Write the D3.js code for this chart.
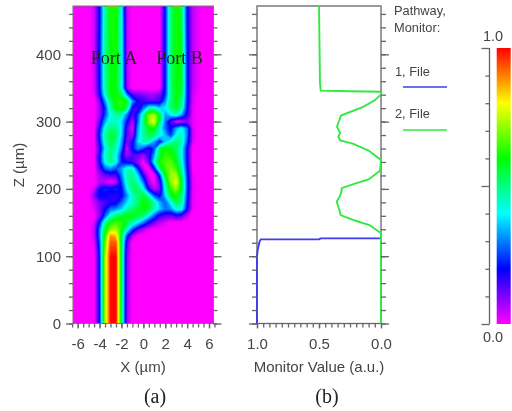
<!DOCTYPE html>
<html>
<head>
<meta charset="utf-8">
<script src="https://cdn.jsdelivr.net/npm/d3@7"></script>
<style>
  html, body { margin: 0; padding: 0; background: #fff; }
  svg { display: block; filter: blur(0.55px); }
  text { font-family: "Liberation Sans", Arial, sans-serif; fill: #444; }
  .serif { font-family: "Liberation Serif", "Times New Roman", serif; fill: #222; }
  .axis path, .axis line { stroke: #666; stroke-width: 1.3; }
</style>
</head>
<body>
<svg width="512" height="411"></svg>
<script>
// field values in percent, sampled across X at these columns
const heatCols = [-5,-4.5,-4,-3.5,-3,-2.5,-2,-1.5,-1,-.5,0,.5,1,1.5,2,2.5,3,3.5,4,4.5,5];
const heatZ = [0,100,120,130,140,150,160,170,180,190,200,210,220,230,240,250,260,270,280,290,300,310,320,330,340,350,400,471,472];
const heatRows = [
  [0,0,20,74,100,100,54,8,0,0,0,0,0,0,0,0,0,0,0,0,0],
  [0,0,22,74,100,100,54,10,0,0,0,0,0,0,0,0,0,0,0,0,0],
  [0,2,26,68,94,94,56,14,0,0,0,0,0,0,0,0,0,0,0,0,0],
  [0,5,30,64,90,86,56,24,6,0,0,0,0,0,0,0,0,0,0,0,0],
  [0,5,30,58,72,74,62,44,28,14,7,2,0,0,0,0,0,0,0,0,0],
  [0,3,22,48,62,66,64,57,47,40,30,20,12,6,3,0,0,0,0,0,0],
  [0,0,10,28,44,52,57,60,60,57,52,40,27,17,14,12,17,14,5,0,0],
  [0,3,10,20,30,32,37,47,52,57,62,57,47,37,30,32,44,42,20,2,0],
  [0,5,12,15,18,18,28,38,45,52,60,58,48,35,28,42,55,50,22,2,0],
  [0,10,22,20,18,18,20,32,45,52,58,45,28,20,38,58,62,52,24,3,0],
  [0,4,20,24,22,24,20,40,52,52,42,18,6,10,45,64,72,58,25,3,0],
  [0,0,6,5,0,5,25,45,52,46,30,8,0,14,48,72,80,58,25,3,0],
  [0,0,8,12,14,14,30,48,50,38,18,3,0,24,58,74,74,54,24,2,0],
  [0,0,14,28,32,26,34,45,45,24,5,0,20,52,65,70,65,48,22,0,0],
  [0,0,20,42,50,42,22,18,16,8,0,14,42,62,67,67,60,44,20,0,0],
  [0,0,20,45,52,42,22,8,14,12,8,16,35,58,64,62,56,42,20,0,0],
  [0,0,16,40,52,46,30,3,22,32,26,16,26,54,62,60,54,42,20,0,0],
  [0,0,20,46,56,50,34,10,18,38,48,45,34,20,36,46,52,48,26,4,0],
  [0,0,24,48,56,54,38,14,6,36,48,56,52,44,36,24,42,46,30,5,0],
  [0,0,20,44,52,50,40,14,3,34,48,60,62,44,28,20,34,42,30,4,0],
  [0,0,14,34,45,45,38,22,6,28,52,72,80,54,30,14,2,3,10,3,0],
  [0,0,8,26,42,48,45,30,14,26,48,72,74,58,32,40,45,34,18,3,0],
  [0,0,8,24,48,60,64,52,18,16,30,45,45,38,40,52,58,48,20,3,0],
  [0,0,10,32,52,62,64,58,34,20,18,14,14,16,32,52,60,52,22,4,0],
  [0,2,18,44,60,62,54,32,14,12,10,8,8,12,24,50,60,55,22,5,0],
  [0,3,20,48,60,60,44,8,0,0,0,0,0,0,22,52,60,58,22,6,2],
  [0,4,22,50,60,62,44,6,0,0,0,0,0,0,22,52,62,58,22,6,2],
  [0,4,20,48,62,62,42,5,0,0,0,0,0,0,22,52,62,55,20,6,2],
  [0,4,30,70,88,88,70,20,0,0,0,0,0,0,30,75,88,80,30,6,2]
];

const zTicksMajor = [0,100,200,300,400];
const xTickLabels = [-6,-4,-2,0,2,4,6];
const monitorTicks = [1,0.5,0];

// pathway 1 (blue), pathway 2 (green): [monitor value, z]
const monitorBlue = [[1,0],[1,100],[0.995,109],[0.98,121.5],[0.97,125],[0.5,125],[0.486,126.5],[0,126.5]];
const monitorGreen = [[0,0],[0,134],[0.089,146],[0.21,153],[0.325,161],[0.336,169],[0.357,181],[0.33,189.5],[0.317,198],
  [0.317,201],[0.223,207],[0.1,214],[0.008,227],[0,243],[0.1,257],[0.223,267],[0.33,272],[0.344,277.6],[0.33,283.5],
  [0.355,292.5],[0.336,302],[0.323,309],[0.143,322],[0.048,332],[0,340.5],[0,344.4],[0.25,345],[0.486,346],[0.492,357],[0.5,473]];

const colorStops = [0,0.2,0.4,0.6,0.8,1];
const colorNames = ["#ff00ff","#0000ff","#00ffff","#00ff00","#ffff00","#ff0000"];
const barTicks = [0,0.1,0.2,0.3,0.4,0.5,0.6,0.7,0.8,0.9,1];

const svg = d3.select("svg");
const plotTop = 6, plotBottom = 323.5;

const color = d3.scaleLinear().domain(colorStops).range(colorNames);
const z = d3.scaleLinear().domain([0,100]).range([plotBottom,256.2]);
const zMax = z.invert(plotTop);
const x = d3.scaleLinear().domain([-6,6]).range([77.7,209]);
const xLeft = 73, xRight = 213.5;
const v = d3.scaleLinear().domain([1,0]).range([257,381]);
const barY = d3.scaleLinear().domain([0,1]).range([324,48]);

const zMinor = d3.range(0, zMax, 20);
const fs = 15;

// axis helper, draws only ticks and labels
function ticks(g, axis) {
  g.attr("class", "axis").call(axis);
  g.select(".domain").remove();
  g.selectAll("text").attr("font-size", fs);
}

// panel (a): contour field
const defs = svg.append("defs");
defs.append("clipPath").attr("id", "clipA").append("rect")
  .attr("x", xLeft).attr("y", plotTop).attr("width", xRight - xLeft).attr("height", plotBottom - plotTop);

const nx = heatCols.length, ny = heatZ.length;
const colIdx = d3.scaleLinear().domain(d3.range(nx)).range(heatCols);
const rowIdx = d3.scaleLinear().domain(d3.range(ny)).range(heatZ);
const flat = heatRows.flat();
const levels = d3.range(1, 100.1, 1.5);
const contours = d3.contours().size([nx, ny]).smooth(true).thresholds(levels)(flat);
const proj = d3.geoTransform({
  point(px, py) { this.stream.point(x(colIdx(px - 0.5)), z(rowIdx(py - 0.5))); }
});
const path = d3.geoPath(proj);

const a = svg.append("g").attr("clip-path", "url(#clipA)");
a.append("rect").attr("x", xLeft).attr("y", plotTop).attr("width", xRight - xLeft).attr("height", plotBottom - plotTop).attr("fill", color(0));
a.selectAll("path").data(contours).join("path")
  .attr("d", path)
  .attr("fill", d => color(d.value / 100));

svg.append("rect").attr("x", xLeft).attr("y", plotTop).attr("width", xRight - xLeft).attr("height", plotBottom - plotTop)
  .attr("fill", "none").attr("stroke", "#777").attr("stroke-width", 1);

// panel (a) axes
svg.append("g").attr("transform", `translate(${xLeft},0)`)
  .call(ticks, d3.axisLeft(z).tickValues(zMinor).tickSize(4).tickFormat(""));
svg.append("g").attr("transform", `translate(${xLeft},0)`)
  .call(ticks, d3.axisLeft(z).tickValues(zTicksMajor).tickSize(7).tickPadding(5).tickFormat(d3.format("d")));
svg.append("g").attr("transform", `translate(${xRight},0)`)
  .call(ticks, d3.axisRight(z).tickValues(zMinor).tickSize(4).tickFormat(""));
svg.append("g").attr("transform", `translate(${xRight},0)`)
  .call(ticks, d3.axisRight(z).tickValues(zTicksMajor).tickSize(8).tickFormat(""));
svg.append("g").attr("transform", `translate(0,${plotBottom})`)
  .call(ticks, d3.axisBottom(x).tickValues(d3.range(-6.5, 6.6, 0.5)).tickSize(4).tickFormat(""));
svg.append("g").attr("transform", `translate(0,${plotBottom})`)
  .call(ticks, d3.axisBottom(x).tickValues(xTickLabels).tickSize(5).tickPadding(9.5).tickFormat(d => String(d)));

svg.append("text").attr("x", 143).attr("y", 372).attr("text-anchor", "middle").attr("font-size", fs).text("X (\u00b5m)");
svg.append("text").attr("transform", "translate(24,165) rotate(-90)").attr("text-anchor", "middle").attr("font-size", fs).text("Z (\u00b5m)");
svg.append("text").attr("class", "serif").attr("x", 114).attr("y", 64).attr("text-anchor", "middle").attr("font-size", 18).text("Port A");
svg.append("text").attr("class", "serif").attr("x", 179.5).attr("y", 64).attr("text-anchor", "middle").attr("font-size", 18).text("Port B");
svg.append("text").attr("class", "serif").attr("x", 155).attr("y", 403).attr("text-anchor", "middle").attr("font-size", 20).text("(a)");
svg.append("text").attr("class", "serif").attr("x", 327).attr("y", 403).attr("text-anchor", "middle").attr("font-size", 20).text("(b)");

// panel (b)
svg.append("rect").attr("x", v(1)).attr("y", plotTop).attr("width", v(0) - v(1)).attr("height", plotBottom - plotTop)
  .attr("fill", "#fff").attr("stroke", "#666").attr("stroke-width", 1.3);
const line = d3.line().x(d => v(d[0])).y(d => z(d[1]));
svg.append("path").datum(monitorBlue).attr("d", line).attr("fill", "none").attr("stroke", "#3c3cf0").attr("stroke-width", 1.9);
svg.append("path").datum(monitorGreen).attr("d", line).attr("fill", "none").attr("stroke", "#30ea40").attr("stroke-width", 1.9);

svg.append("g").attr("transform", `translate(${v(1)},0)`)
  .call(ticks, d3.axisLeft(z).tickValues(zMinor).tickSize(5).tickFormat(""));
svg.append("g").attr("transform", `translate(${v(1)},0)`)
  .call(ticks, d3.axisLeft(z).tickValues(zTicksMajor).tickSize(8).tickFormat(""));
svg.append("g").attr("transform", `translate(${v(0)},0)`)
  .call(ticks, d3.axisRight(z).tickValues(zMinor).tickSize(5).tickFormat(""));
svg.append("g").attr("transform", `translate(${v(0)},0)`)
  .call(ticks, d3.axisRight(z).tickValues(zTicksMajor).tickSize(8).tickFormat(""));
svg.append("g").attr("transform", `translate(0,${plotBottom})`)
  .call(ticks, d3.axisBottom(v).tickValues(d3.range(0, 1.01, 0.05)).tickSize(4).tickFormat(""));
svg.append("g").attr("transform", `translate(0,${plotBottom})`)
  .call(ticks, d3.axisBottom(v).tickValues(monitorTicks).tickSize(5).tickPadding(9.5).tickFormat(d3.format(".1f")));
svg.append("text").attr("x", 319).attr("y", 372).attr("text-anchor", "middle").attr("font-size", fs).text("Monitor Value (a.u.)");

// legend
const legendX = 394;
svg.append("text").attr("x", legendX).attr("y", 15).attr("font-size", 12.8).text("Pathway,");
svg.append("text").attr("x", legendX).attr("y", 32).attr("font-size", 12.8).text("Monitor:");
svg.append("text").attr("x", legendX + 1).attr("y", 76).attr("font-size", 12.8).text("1, File");
svg.append("text").attr("x", legendX + 1).attr("y", 118).attr("font-size", 12.8).text("2, File");
svg.append("line").attr("x1", 403).attr("x2", 447).attr("y1", 87).attr("y2", 87).attr("stroke", "#3c3cf0").attr("stroke-width", 1.4);
svg.append("line").attr("x1", 403).attr("x2", 447).attr("y1", 130).attr("y2", 130).attr("stroke", "#30ea40").attr("stroke-width", 1.4);

// color bar
const grad = defs.append("linearGradient").attr("id", "bar").attr("x1", 0).attr("x2", 0).attr("y1", 1).attr("y2", 0);
grad.selectAll("stop").data(colorStops).join("stop")
  .attr("offset", d => d).attr("stop-color", d => color(d));
svg.append("rect").attr("x", 496.7).attr("y", barY(1)).attr("width", 14).attr("height", barY(0) - barY(1)).attr("fill", "url(#bar)");
svg.append("g").attr("transform", "translate(489.5,0)")
  .call(g => {
    g.attr("class", "axis").call(d3.axisLeft(barY).tickValues(barTicks).tickSize(4).tickFormat(""));
    g.select(".domain").attr("d", `M0,${barY(0)}V${barY(1)}`).attr("fill", "none");
    g.selectAll(".tick line").filter(d => d === 0 || d === 0.5 || d === 1).attr("x2", -8);
  });
svg.append("text").attr("x", 493).attr("y", 41).attr("text-anchor", "middle").attr("font-size", 14.5).text("1.0");
svg.append("text").attr("x", 493).attr("y", 342).attr("text-anchor", "middle").attr("font-size", 14.5).text("0.0");
</script>
</body>
</html>
